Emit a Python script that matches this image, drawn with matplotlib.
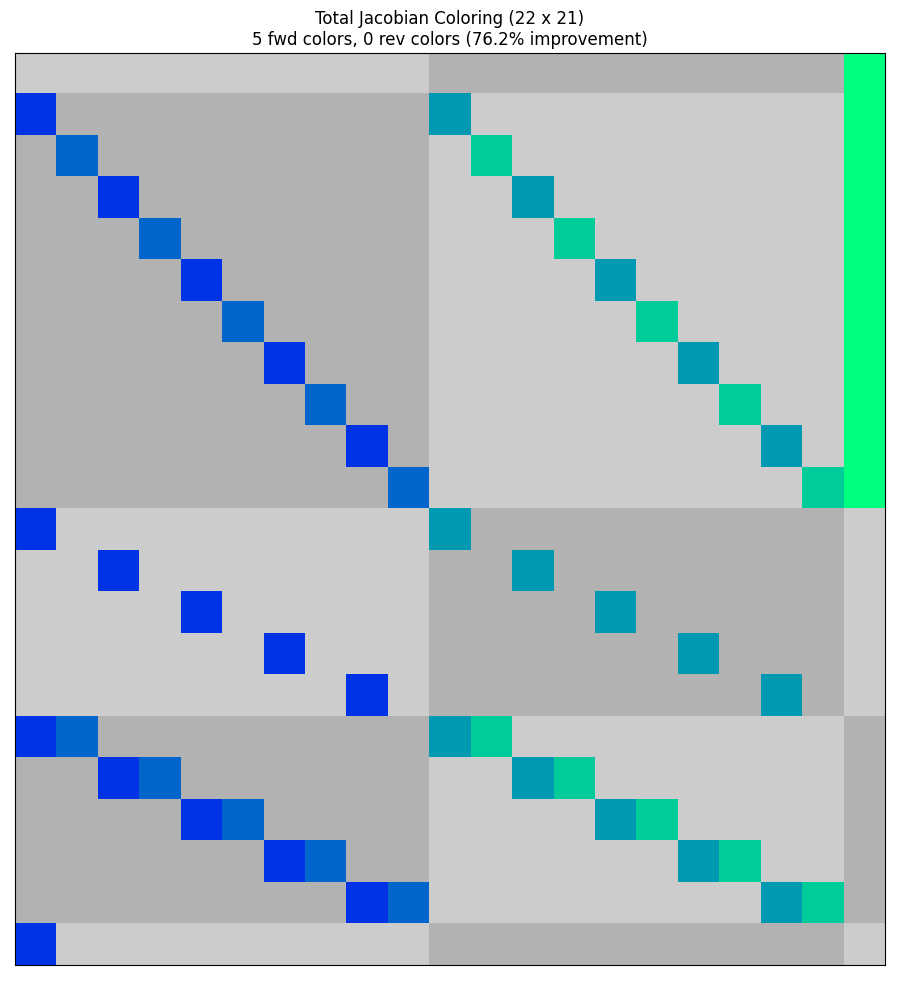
import numpy as np
import matplotlib
matplotlib.use("Agg")
import matplotlib.pyplot as plt

n_rows, n_cols = 22, 21
n_fwd_colors = 5
n_rev_colors = 0
improvement = 76.2

# block structure (sizes of response rows and design var columns)
row_block_sizes = [1, 10, 5, 5, 1]
col_block_sizes = [10, 10, 1]

# forward color assigned to each column (1-based)
col_colors = [1, 2, 1, 2, 1, 2, 1, 2, 1, 2,
              3, 4, 3, 4, 3, 4, 3, 4, 3, 4,
              5]

# nonzero columns in each row
row_nonzeros = [
    [20],
    [0, 10, 20], [1, 11, 20], [2, 12, 20], [3, 13, 20], [4, 14, 20],
    [5, 15, 20], [6, 16, 20], [7, 17, 20], [8, 18, 20], [9, 19, 20],
    [0, 10], [2, 12], [4, 14], [6, 16], [8, 18],
    [0, 1, 10, 11], [2, 3, 12, 13], [4, 5, 14, 15], [6, 7, 16, 17], [8, 9, 18, 19],
    [0],
]

img = np.zeros((n_rows, n_cols, 3))
light, dark = 0.8, 0.7
r0 = 0
for i, rs in enumerate(row_block_sizes):
    c0 = 0
    for j, cs in enumerate(col_block_sizes):
        g = dark if (i + j) % 2 else light
        img[r0:r0 + rs, c0:c0 + cs, :] = g
        c0 += cs
    r0 += rs

cmap = plt.get_cmap('winter')
for r, cols in enumerate(row_nonzeros):
    for c in cols:
        img[r, c, :] = cmap(col_colors[c] / n_fwd_colors)[:3]

fig = plt.figure(figsize=(9, 10), dpi=100)
ax = fig.add_axes([15 / 900, 35 / 1000, 870 / 900, 912 / 1000])
ax.imshow(img, interpolation='nearest', aspect='auto',
          extent=(0, n_cols, n_rows, 0))
ax.set_xticks([])
ax.set_yticks([])
ax.set_title(f"Total Jacobian Coloring ({n_rows} x {n_cols})\n"
             f"{n_fwd_colors} fwd colors, {n_rev_colors} rev colors "
             f"({improvement:.1f}% improvement)", fontsize=12)
fig.savefig("out.png", dpi=100)
